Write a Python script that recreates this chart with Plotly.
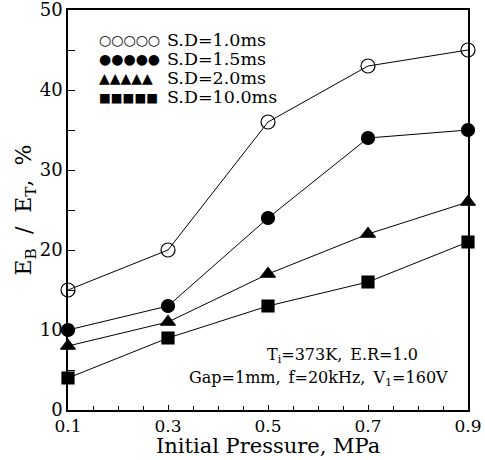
import plotly.graph_objects as go

pressure = [0.1, 0.3, 0.5, 0.7, 0.9]
sd_labels = ["S.D=1.0ms", "S.D=1.5ms", "S.D=2.0ms", "S.D=10.0ms"]
sd_1_0 = [15, 20, 36, 43, 45]
sd_1_5 = [10, 13, 24, 34, 35]
sd_2_0 = [8, 11, 17, 22, 26]
sd_10_0 = [4, 9, 13, 16, 21]
x_ticks = [0.1, 0.3, 0.5, 0.7, 0.9]
y_ticks = [0, 10, 20, 30, 40, 50]

FONT = "DejaVu Serif"
series = [
    (sd_1_0, "circle-open", 14, "○○○○○", 14),
    (sd_1_5, "circle", 13, "●●●●●", 14),
    (sd_2_0, "triangle-up", 13, "▲▲▲▲▲", 14),
    (sd_10_0, "square", 12, "■■■■■", 12.5),
]

fig = go.Figure()
for (vals, sym, size, glyph, gsize), name in zip(series, sd_labels):
    fig.add_trace(go.Scatter(
        x=pressure, y=vals, name=name, mode="lines+markers",
        line=dict(color="black", width=1),
        marker=dict(symbol=sym, size=size, color="black",
                    line=dict(color="black", width=1.2)),
        cliponaxis=False, showlegend=False,
    ))

annotations = []
for i, ((vals, sym, size, glyph, gsize), name) in enumerate(zip(series, sd_labels)):
    yy = 0.925 - i * 0.0475
    annotations.append(dict(
        xref="paper", yref="paper", x=0.072, y=yy, xanchor="left", yanchor="middle",
        text=glyph, showarrow=False,
        font=dict(family="DejaVu Sans", size=gsize, color="black"),
    ))
    annotations.append(dict(
        xref="paper", yref="paper", x=0.2425, y=yy, xanchor="left", yanchor="middle",
        text=name, showarrow=False,
        font=dict(family=FONT, size=17.5, color="black"),
    ))

annotations.append(dict(
    xref="paper", yref="paper", x=0.685, y=0.137, xanchor="center", yanchor="middle",
    text="T<sub>i</sub>=373K,\u2002E.R=1.0", showarrow=False,
    font=dict(family=FONT, size=16, color="black"),
))
annotations.append(dict(
    xref="paper", yref="paper", x=0.955, y=0.08, xanchor="right", yanchor="middle",
    text="Gap=1mm,\u2002f=20kHz,\u2002V<sub>1</sub>=160V", showarrow=False,
    font=dict(family=FONT, size=16, color="black"),
))
# x-axis title
annotations.append(dict(
    xref="paper", yref="paper", x=0.5, y=-0.124, xanchor="center", yanchor="bottom",
    text="Initial Pressure, MPa", showarrow=False,
    font=dict(family=FONT, size=21, color="black"),
))

fig.update_layout(
    width=485, height=460,
    margin=dict(l=68, r=17, t=10, b=50),
    paper_bgcolor="white", plot_bgcolor="white",
    font=dict(family=FONT, color="black"),
    annotations=annotations,
    xaxis=dict(
        range=[0.1, 0.9], tickvals=x_ticks, ticktext=[f"{v:.1f}" for v in x_ticks],
        ticks="inside", ticklen=5, tickwidth=1, tickcolor="black",
        minor=dict(dtick=0.05, tick0=0.1, ticks="inside", ticklen=4, tickcolor="black", showgrid=False),
        showline=True, linecolor="black", linewidth=1.5, mirror=True,
        showgrid=False, zeroline=False, automargin=False, ticklabeloverflow="allow",
        tickfont=dict(family=FONT, size=17),
    ),
    yaxis=dict(
        range=[0, 50], tickvals=y_ticks,
        ticks="inside", ticklen=7, tickwidth=1, tickcolor="black",
        minor=dict(dtick=5, tick0=0, ticks="inside", ticklen=7, tickcolor="black", showgrid=False),
        showline=True, linecolor="black", linewidth=1.5, mirror=True,
        showgrid=False, zeroline=False, automargin=False, ticklabeloverflow="allow",
        tickfont=dict(family=FONT, size=18),
        title=dict(text="E<sub>B</sub>\u00a0\u00a0/\u00a0\u00a0E<sub>T</sub>,\u00a0\u00a0%",
                   font=dict(family=FONT, size=22), standoff=0),
    ),
)

fig.write_html("out.html")
